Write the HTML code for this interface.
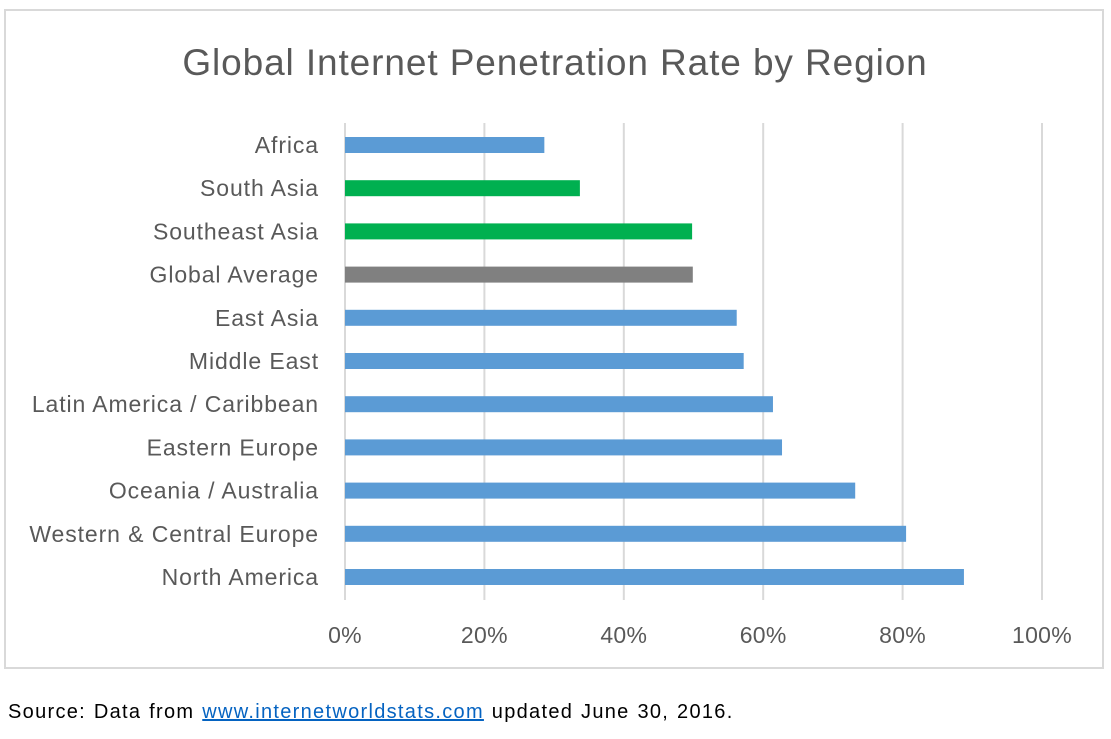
<!DOCTYPE html>
<html><head><meta charset="utf-8"><style>
body{margin:0;background:#fff;width:1111px;height:739px;overflow:hidden;font-family:"Liberation Sans",sans-serif}
#frame{position:absolute;left:4px;top:9px;width:1100px;height:660px;border:2px solid #d9d9d9;box-sizing:border-box}
#src{position:absolute;left:8px;top:701px;font-size:20px;letter-spacing:1.3px;word-spacing:1px;color:#000}
#src a{color:#0563c1;text-decoration:underline}
</style></head><body>
<div id="frame"></div>
<svg id="chart" width="1111" height="680" style="position:absolute;left:0;top:0">
<text x="555" y="75" text-anchor="middle" font-size="37" letter-spacing="0.9" fill="#595959" font-family="Liberation Sans, sans-serif">Global Internet Penetration Rate by Region</text>
</svg>
<div id="src">Source: Data from <a>www.internetworldstats.com</a> updated June 30, 2016.</div>
<script>
const categories=["Africa","South Asia","Southeast Asia","Global Average","East Asia","Middle East","Latin America / Caribbean","Eastern Europe","Oceania / Australia","Western & Central Europe","North America"];
const values=[28.6,33.7,49.8,49.9,56.2,57.2,61.4,62.7,73.2,80.5,88.8];
const colors=["#5b9bd5","#00b050","#00b050","#808080","#5b9bd5","#5b9bd5","#5b9bd5","#5b9bd5","#5b9bd5","#5b9bd5","#5b9bd5"];
const ticks=[0,20,40,60,80,100];
const tickLabels=["0%","20%","40%","60%","80%","100%"];
const svg=document.getElementById('chart');const NS="http://www.w3.org/2000/svg";
const x=v=>345+v*6.97;
const y=i=>145+i*43.2;
function mk(t,a){const e=document.createElementNS(NS,t);for(const k in a)e.setAttribute(k,a[k]);svg.appendChild(e);return e;}
ticks.forEach((t,i)=>{
const g=mk('line',{x1:x(t),x2:x(t),y1:123,y2:600,stroke:'#d9d9d9','stroke-width':2});


const l=mk('text',{x:x(t),y:643,'text-anchor':'middle','font-size':23,'letter-spacing':0.3,fill:'#595959'});l.textContent=tickLabels[i];


});
categories.forEach((c,i)=>{
const r=mk('rect',{x:x(0),y:y(i)-8,width:x(values[i])-x(0),height:16,fill:colors[i]});


const t=mk('text',{x:319,y:y(i)+8,'text-anchor':'end','font-size':23,'letter-spacing':0.9,fill:'#595959'});t.textContent=c;


});
</script>
</body></html>
